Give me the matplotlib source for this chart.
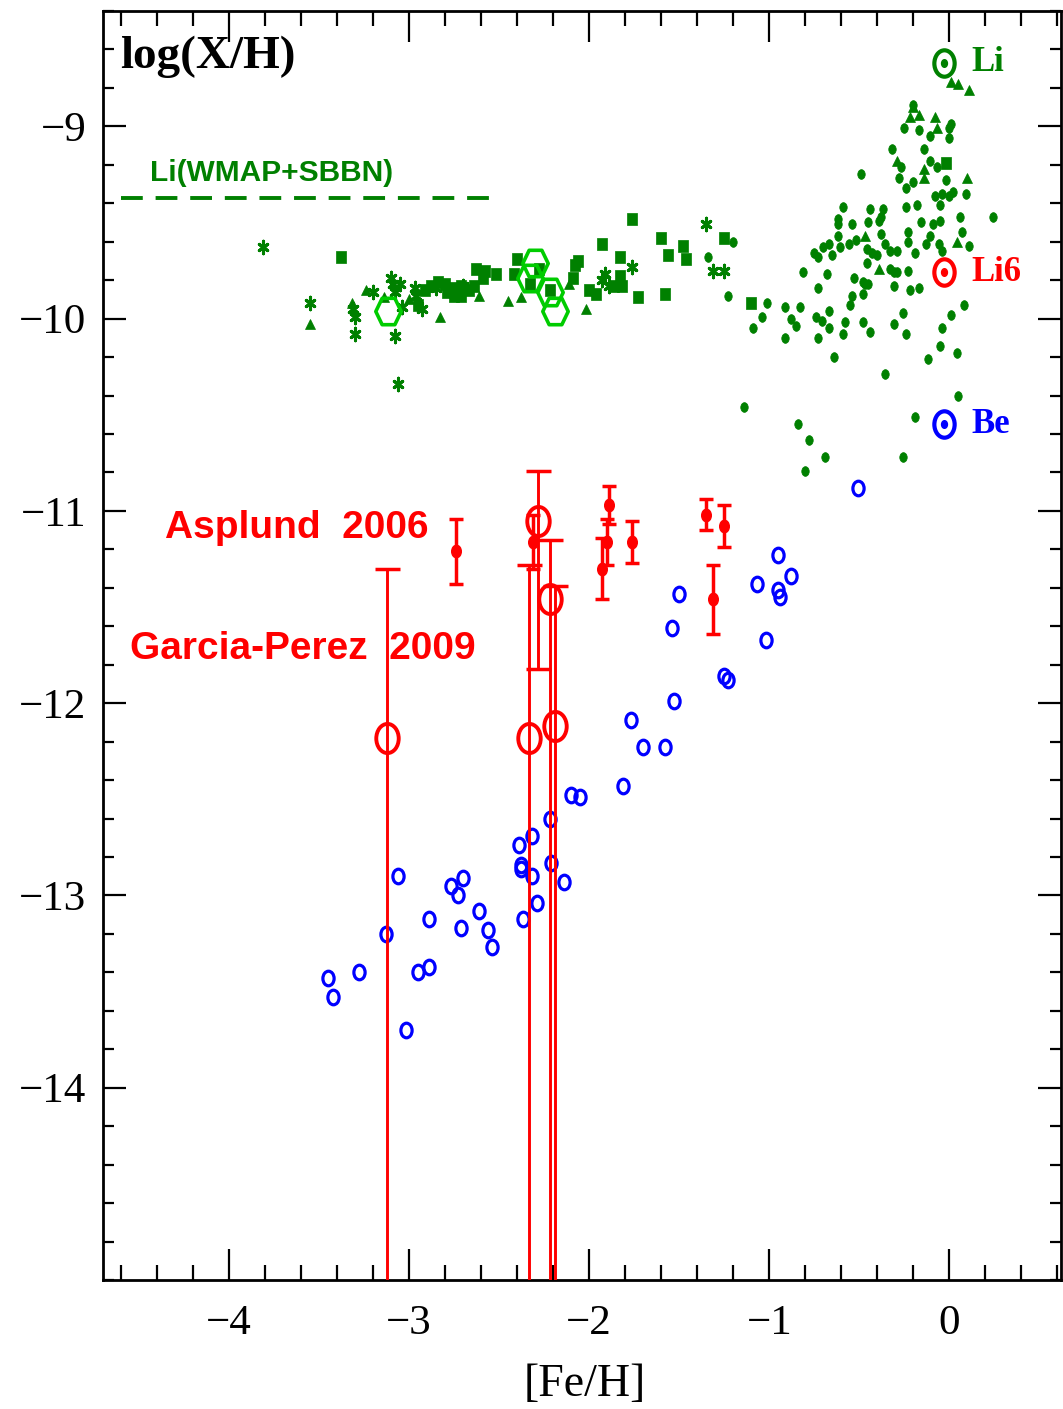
import numpy as np
import matplotlib as mpl
mpl.use('agg')
import matplotlib.pyplot as plt
from matplotlib.path import Path
from matplotlib.transforms import Affine2D
from matplotlib.ticker import MultipleLocator

# ---- Li data (green) ----
ast_x = [-3.81, -3.55, -3.31, -3.30, -3.30, -3.20, -3.10, -3.09, -3.05, -3.08,
         -3.04, -3.08, -3.06, -2.97, -2.96, -2.93, -2.85, -2.78, -2.70, -1.91,
         -1.93, -1.89, -1.76, -1.35, -1.31, -1.25]
ast_y = [-9.63, -9.92, -9.95, -9.99, -10.08, -9.86, -9.79, -9.82, -9.82, -9.86,
         -9.94, -10.09, -10.34, -9.84, -9.88, -9.95, -9.84, -9.85, -9.83, -9.77,
         -9.80, -9.83, -9.73, -9.51, -9.75, -9.75]

sq_x = [-3.38, -2.95, -2.91, -2.88, -2.84, -2.80, -2.79, -2.75, -2.71, -2.67,
        -2.64, -2.75, -2.71, -2.63, -2.58, -2.52, -2.59, -2.40, -2.42, -2.28,
        -2.33, -2.22, -2.08, -2.06, -2.09, -2.00, -1.96, -1.93, -1.76, -1.86,
        -1.83, -1.82, -1.83, -1.73, -1.60, -1.56, -1.58, -1.48, -1.46, -1.25,
        -1.10, -0.02]
sq_y = [-9.68, -9.93, -9.85, -9.83, -9.81, -9.82, -9.86, -9.84, -9.83, -9.85,
        -9.83, -9.88, -9.88, -9.74, -9.75, -9.77, -9.79, -9.69, -9.77, -9.74,
        -9.82, -9.85, -9.72, -9.70, -9.79, -9.85, -9.87, -9.61, -9.48, -9.83,
        -9.78, -9.83, -9.68, -9.89, -9.58, -9.67, -9.87, -9.62, -9.69, -9.58,
        -9.92, -9.19]

tri_x = [-3.55, -3.32, -3.24, -3.14, -3.00, -2.83, -2.61, -2.45, -2.38, -2.11,
         -2.02, -0.29, -0.14, -0.14, -0.39, 0.04, 0.10, -0.20, -0.22, -0.17,
         -0.08, -0.07, 0.01, 0.05, 0.11, -0.47]
tri_y = [-10.03, -9.92, -9.85, -9.89, -9.90, -9.99, -9.88, -9.91, -9.89, -9.82,
         -9.95, -9.18, -9.22, -9.27, -9.74, -9.60, -9.27, -8.90, -8.95, -8.94,
         -8.95, -9.01, -8.77, -8.78, -8.81, -9.57]

dot_x = [-1.23, -1.20, -1.34, -1.01, -1.04, -1.09, -0.91, -0.83, -0.88, -0.85,
         -0.91, -0.74, -0.71, -0.67, -0.67, -0.73, -0.73, -0.58, -0.59, -0.64,
         -0.54, -0.55, -0.48, -0.48, -0.44, -0.31, -0.26, -0.24, -0.31, -0.22,
         -0.17, -0.47, -0.45, -0.36, -0.12, -0.05, -0.04, 0.01, 0.08, 0.04,
         0.05, -0.19, -0.26, -1.14, -0.84, -0.78, -0.69, -0.80, -0.81, -0.68,
         -0.53, -0.48, -0.31, -0.29, -0.23, -0.75, -0.73, -0.70, -0.67, -0.65,
         -0.46, -0.33, -0.46, -0.43, -0.40, -0.38, -0.36, -0.33, -0.29, -0.62,
         -0.62, -0.54, -0.62, -0.61, -0.56, -0.52, -0.45, -0.44, -0.37, -0.38,
         -0.39, -0.49, -0.59, -0.32, -0.27, -0.28, -0.24, -0.20, -0.14, -0.11,
         -0.07, -0.02, -0.08, -0.04, 0.00, 0.02, -0.05, -0.24, -0.18, -0.16,
         -0.09, -0.05, 0.06, 0.07, 0.09, 0.24, -0.23, -0.23, -0.11, -0.19,
         -0.13, -0.06, -0.04, 0.11, -0.25, -0.17, -0.11, 0.00, 0.01, 0.00,
         -0.20]
dot_y = [-9.88, -9.60, -9.68, -9.92, -9.99, -10.05, -9.94, -9.94, -10.00, -10.04,
         -10.10, -9.99, -10.01, -9.96, -10.05, -10.10, -9.84, -10.02, -10.08, -10.20,
         -9.88, -9.93, -9.87, -10.02, -10.07, -10.03, -9.97, -10.08, -9.83, -9.85,
         -9.84, -9.82, -9.82, -10.29, -10.21, -10.14, -10.05, -9.98, -9.93, -10.18,
         -10.40, -10.51, -10.72, -10.46, -10.55, -10.63, -10.72, -10.79, -9.76, -9.77,
         -9.79, -9.81, -9.76, -9.76, -9.75, -9.66, -9.68, -9.63, -9.61, -9.67,
         -9.71, -9.74, -9.64, -9.66, -9.67, -9.56, -9.61, -9.65, -9.65, -9.48,
         -9.51, -9.51, -9.57, -9.63, -9.61, -9.59, -9.50, -9.43, -9.43, -9.47,
         -9.49, -9.25, -9.42, -9.12, -9.21, -9.27, -9.32, -9.29, -9.12, -9.18,
         -9.21, -9.28, -9.36, -9.35, -9.36, -9.34, -9.41, -9.42, -9.41, -9.50,
         -9.51, -9.49, -9.47, -9.55, -9.35, -9.47, -9.55, -9.60, -9.57, -9.66,
         -9.61, -9.61, -9.65, -9.62, -9.01, -9.02, -9.05, -9.01, -8.99, -9.06,
         -8.89]

hex_x = [-3.12, -2.30, -2.33, -2.22, -2.19]
hex_y = [-9.96, -9.71, -9.79, -9.86, -9.96]

wmap_li = -9.37
wmap_xrange = [-4.6, -2.5]

# ---- Be data (blue) ----
be_x = [-3.45, -3.42, -3.28, -3.13, -3.06, -3.02, -2.95, -2.89, -2.89, -2.77,
        -2.70, -2.73, -2.71, -2.61, -2.56, -2.54, -2.39, -2.32, -2.38, -2.38,
        -2.32, -2.29, -2.37, -2.22, -2.21, -2.14, -2.10, -2.05, -1.81, -1.70,
        -1.58, -1.77, -1.53, -1.54, -1.50, -1.25, -1.23, -1.02, -1.07, -0.95,
        -0.88, -0.95, -0.94, -0.51]
be_y = [-13.43, -13.53, -13.40, -13.20, -12.90, -13.70, -13.40, -13.37, -13.12, -12.95,
        -12.91, -13.00, -13.17, -13.08, -13.18, -13.27, -12.74, -12.69, -12.84, -12.86,
        -12.90, -13.04, -13.12, -12.60, -12.83, -12.93, -12.48, -12.49, -12.43, -12.23,
        -12.23, -12.09, -11.99, -11.61, -11.43, -11.86, -11.88, -11.67, -11.38, -11.23,
        -11.34, -11.41, -11.45, -10.88]

# ---- Li6 data (red) ----
asp_x = [-2.74, -2.31, -1.89, -1.90, -1.93, -1.76, -1.35, -1.25, -1.31]
asp_y = [-11.21, -11.16, -10.97, -11.16, -11.30, -11.16, -11.02, -11.08, -11.46]
asp_err = [0.17, 0.14, 0.10, 0.12, 0.16, 0.11, 0.08, 0.11, 0.18]

gp_x = [-3.125, -2.336, -2.286, -2.219, -2.191]
gp_y = [-12.18, -12.18, -11.05, -11.46, -12.12]
gp_top = [-11.30, -11.28, -10.79, -11.15, -11.39]
gp_bot = [None, None, -11.82, None, None]   # None: lower limit is zero

GREEN = '#008000'
LIME = '#00cc00'
RED = '#ff0000'
BLUE = '#0000ff'

serif = 'Liberation Serif'
sans = 'Liberation Sans'

# tall markers: the figure is stretched vertically
stretch = Affine2D().scale(1, 1.3)
circ = Path.unit_circle().transformed(stretch)
hexm = Path.unit_regular_polygon(6).transformed(Affine2D().rotate_deg(30).scale(1, 1.2))
rect = Path.unit_rectangle().transformed(Affine2D().translate(-0.5, -0.5).scale(1, 1.2))
aster = Path.unit_regular_asterisk(6).transformed(stretch)

fig = plt.figure(figsize=(10.63, 14.09), dpi=100)
ax = fig.add_axes([103 / 1063, 129 / 1409, 958 / 1063, 1269 / 1409])
ax.set_xlim(-4.7, 0.62)
ax.set_ylim(-15, -8.4)

# Li
ax.plot(wmap_xrange, [wmap_li, wmap_li], color=GREEN, lw=2.8, ls=(0, (5.6, 3.3)))
ax.plot(ast_x, ast_y, ls='none', marker=aster, ms=9, mec=GREEN, mew=2.2)
ax.plot(sq_x, sq_y, ls='none', marker=rect, ms=8.5, mfc=GREEN, mec=GREEN, mew=0.5)
ax.plot(tri_x, tri_y, ls='none', marker='^', ms=7.5, mfc=GREEN, mec=GREEN, mew=0.5)
ax.plot(dot_x, dot_y, ls='none', marker=circ, ms=7, mfc=GREEN, mec=GREEN, mew=0.5)
ax.plot(hex_x, hex_y, ls='none', marker=hexm, ms=19, mfc='none', mec=LIME, mew=2.6)

# Be
ax.plot(be_x, be_y, ls='none', marker=circ, ms=10.5, mfc='none', mec=BLUE, mew=2.3, zorder=3)

# Li6, Asplund 2006
ax.errorbar(asp_x, asp_y, yerr=asp_err, fmt='none', ecolor=RED, elinewidth=2.5,
            capsize=5, capthick=2.5, zorder=4)
ax.plot(asp_x, asp_y, ls='none', marker=circ, ms=9, mfc=RED, mec=RED, zorder=5)

# Li6, Garcia-Perez 2009 (lower bars run off the plot when the lower limit is zero)
ylo = ax.get_ylim()[0] - 1.0
lower = [y - (b if b is not None else ylo) for y, b in zip(gp_y, gp_bot)]
upper = [t - y for y, t in zip(gp_y, gp_top)]
ax.errorbar(gp_x, gp_y, yerr=[lower, upper], fmt='none', ecolor=RED, elinewidth=2.1,
            capsize=9, capthick=2.5, zorder=4)
ax.plot(gp_x, gp_y, ls='none', marker=circ, ms=21, mfc='none', mec=RED, mew=2.8, zorder=5)

# axes styling
for s in ax.spines.values():
    s.set_linewidth(2.0)
ax.xaxis.set_major_locator(MultipleLocator(1))
ax.xaxis.set_minor_locator(MultipleLocator(0.2))
ax.set_yticks([-14, -13, -12, -11, -10, -9])
ax.yaxis.set_minor_locator(MultipleLocator(0.2))
ax.tick_params(axis='both', which='both', direction='in', top=True, right=True, width=1.6)
ax.tick_params(axis='x', which='major', length=22, pad=18)
ax.tick_params(axis='x', which='minor', length=11)
ax.tick_params(axis='y', which='major', length=16.5, pad=12)
ax.tick_params(axis='y', which='minor', length=8)
for lab in ax.get_xticklabels() + ax.get_yticklabels():
    lab.set_fontfamily(serif)
    lab.set_fontsize(31)

fig.text(585 / 1063, 1 - 1385 / 1409, '[Fe/H]', family=serif, fontsize=33,
         ha='center', va='center')
ax.text(-4.605, -8.64, 'log(X/H)', family=serif, weight='bold', fontsize=34,
        ha='left', va='center')
ax.text(-4.44, -9.24, 'Li(WMAP+SBBN)', family=sans, weight='bold', fontsize=21.5,
        color=GREEN, ha='left', va='center')

# species key at the right
key_y = [-8.67, -9.76, -10.55]
key_lab = ['Li', 'Li6', 'Be']
key_col = [GREEN, RED, BLUE]
for yy, lab, col in zip(key_y, key_lab, key_col):
    ax.plot([-0.03], [yy], marker=circ, ms=19, mfc='none', mec=col, mew=3)
    ax.plot([-0.03], [yy], marker=circ, ms=5.5, mfc=col, mec=col)
    ax.text(0.12, yy, lab, family=serif, weight='bold', fontsize=25, color=col,
            ha='left', va='center')

ax.text(-4.356, -11.09, 'Asplund  2006', family=sans, weight='bold', fontsize=28,
        color=RED, ha='left', va='center')
ax.text(-4.55, -11.72, 'Garcia-Perez  2009', family=sans, weight='bold', fontsize=28,
        color=RED, ha='left', va='center')

plt.savefig('out.png', dpi=100)
